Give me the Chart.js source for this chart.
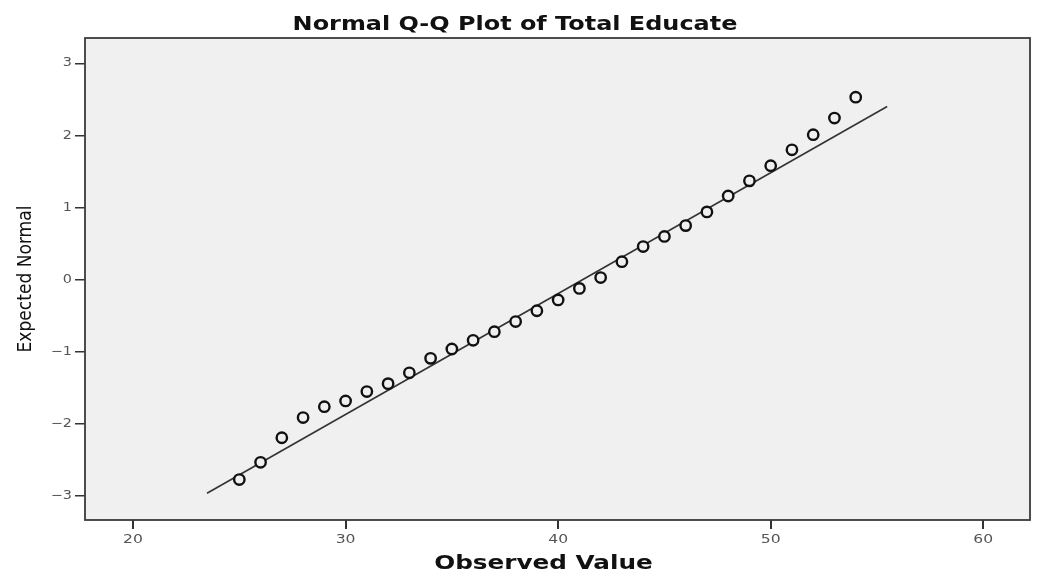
<!DOCTYPE html>
<html>
<head>
<meta charset="utf-8">
<script src="https://cdn.jsdelivr.net/npm/chart.js@4"></script>
<style>
html,body{margin:0;padding:0;background:#fff;}
#wrap{width:1038px;height:582px;}
</style>
</head>
<body>
<div id="wrap"><canvas id="c" width="1038" height="582"></canvas></div>
<script>
// Observed values (x) and expected normal quantiles (y)
const observed = [25,26,27,28,29,30,31,32,33,34,35,36,37,38,39,40,41,42,43,44,45,46,47,48,49,50,51,52,53,54];
const expected = [-2.77,-2.53,-2.19,-1.91,-1.76,-1.68,-1.55,-1.44,-1.29,-1.09,-0.96,-0.84,-0.72,-0.58,-0.43,-0.28,-0.12,0.03,0.25,0.46,0.60,0.75,0.94,1.16,1.37,1.58,1.80,2.01,2.24,2.53];
// Reference line endpoints
const lineX = [23.48, 55.48];
const lineY = [-2.96, 2.40];
const xTicks = [20,30,40,50,60];
const yTicks = [-3,-2,-1,0,1,2,3];

const titleText = 'Normal Q-Q Plot of Total Educate';
const xTitleText = 'Observed Value';
const yTitleText = 'Expected Normal';

// Horizontal text widening (the reference glyphs are wide), applied in screen space
const stretch = {
  id:'stretch',
  beforeInit(chart){
    const ctx = chart.ctx;
    const orig = ctx.fillText.bind(ctx);
    const styleFor = t => {
      if (t === titleText) return {f:1.26, dx:0};
      if (t === xTitleText) return {f:1.3, dx:-14};
      if (t === yTitleText) return {f:1, dx:0};
      return {f:1.2, dx:0};
    };
    ctx.fillText = function(t, x, y, mw){
      const s = styleFor(String(t));
      if (s.f === 1 && s.dx === 0) return orig(t, x, y, mw);
      const m = ctx.getTransform();
      const p = m.transformPoint(new DOMPoint(x, y));
      const lin = new DOMMatrix([m.a, m.b, m.c, m.d, 0, 0]);
      ctx.save();
      ctx.setTransform(new DOMMatrix().translate(p.x + s.dx, p.y).scale(s.f, 1).multiply(lin));
      orig(t, 0, 0);
      ctx.restore();
    };
  }
};

const plotBg = {
  id:'plotBg',
  beforeDraw(chart){
    const {ctx, chartArea:a} = chart;
    ctx.save();
    ctx.fillStyle='#f0f0f0';
    ctx.fillRect(a.left,a.top,a.right-a.left,a.bottom-a.top);
    ctx.restore();
  },
  afterDraw(chart){
    const {ctx, chartArea:a} = chart;
    ctx.save();
    ctx.strokeStyle='#3a3a3a';
    ctx.lineWidth=1.8;
    ctx.strokeRect(a.left,a.top,a.right-a.left,a.bottom-a.top);
    ctx.restore();
  }
};

const fmt = v => (v<0 ? '\u2212'+Math.abs(v) : String(v));

new Chart(document.getElementById('c'), {
  type:'scatter',
  data:{
    datasets:[
      {
        label:'Observed',
        data: observed.map((x,i)=>({x:x,y:expected[i]})),
        pointStyle:'circle',
        pointRadius:5.2,
        pointBorderWidth:2.4,
        pointBorderColor:'#111',
        pointBackgroundColor:'rgba(240,240,240,1)',
        showLine:false,
        order:1
      },
      {
        label:'Line',
        data: lineX.map((x,i)=>({x:x,y:lineY[i]})),
        showLine:true,
        borderColor:'#333',
        borderWidth:1.6,
        pointRadius:0,
        order:2
      }
    ]
  },
  options:{
    responsive:false,
    animation:false,
    layout:{padding:{left:0,right:8,top:0,bottom:0}},
    plugins:{
      legend:{display:false},
      tooltip:{enabled:false},
      title:{
        display:true,
        text:titleText,
        color:'#111',
        font:{family:'"DejaVu Sans",sans-serif',size:19,weight:'bold',lineHeight:1.2},
        padding:{top:14,bottom:1.2}
      }
    },
    scales:{
      x:{
        type:'linear',
        min:17.74,max:62.2,
        afterFit(s){s.height=62;},
        afterBuildTicks(s){s.ticks=xTicks.map(v=>({value:v}));},
        grid:{display:true,drawOnChartArea:false,drawTicks:true,tickLength:9,color:'#333',lineWidth:2},
        border:{display:false},
        ticks:{color:'#555',font:{family:'"DejaVu Sans",sans-serif',size:13},padding:3,maxRotation:0,callback:v=>fmt(v)},
        title:{display:true,text:xTitleText,color:'#111',
          font:{family:'"DejaVu Sans",sans-serif',size:19,weight:'bold',lineHeight:1.2},
          padding:{top:0,bottom:7}}
      },
      y:{
        type:'linear',
        min:-3.33,max:3.35,
        afterFit(s){s.width=85;},
        afterBuildTicks(s){s.ticks=yTicks.map(v=>({value:v}));},
        grid:{display:true,drawOnChartArea:false,drawTicks:true,tickLength:10,color:'#333',lineWidth:1.5},
        border:{display:false},
        ticks:{color:'#555',font:{family:'"DejaVu Sans",sans-serif',size:12},padding:3,callback:v=>fmt(v)},
        title:{display:true,text:yTitleText,color:'#111',
          font:{family:'"DejaVu Sans Condensed","DejaVu Sans",sans-serif',size:19,lineHeight:1.2},
          padding:{top:15,bottom:0}}
      }
    }
  },
  plugins:[stretch, plotBg]
});
</script>
</body>
</html>
